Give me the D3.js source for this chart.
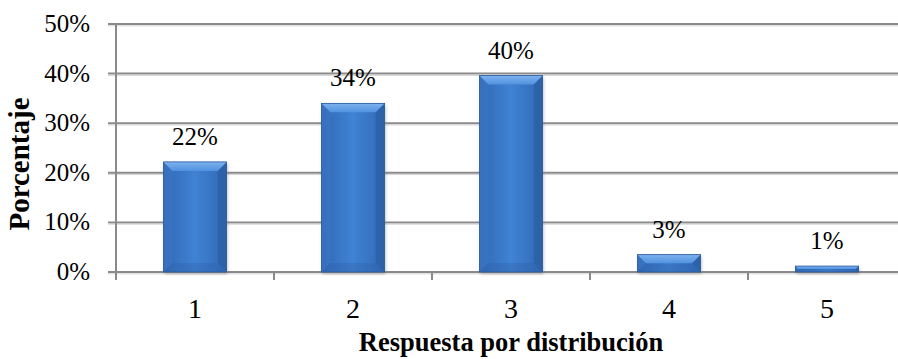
<!doctype html>
<html>
  <head>
    <meta charset="utf-8">
    <script src="https://cdn.jsdelivr.net/npm/d3@7/dist/d3.min.js"></script>
    <style>
      body { margin: 0; background: #fff; }
      text { font-family: "Liberation Serif", "Times New Roman", serif; fill: #000; }
    </style>
  </head>
  <body>
    <svg id="chart" width="898" height="359"></svg>

    <script>
      // values
      var categories = ["1", "2", "3", "4", "5"];
      var values     = [22.2, 34.0, 39.6, 3.5, 1.2];
      var labels     = ["22%", "34%", "40%", "3%", "1%"];
      var yTicks     = [0, 10, 20, 30, 40, 50];
      var yTitle     = "Porcentaje";
      var xTitle     = "Respuesta por distribución";

      var serif = "Liberation Serif, Times New Roman, serif";
      var svg = d3.select("#chart");

      var x = d3.scaleBand()
        .domain(categories)
        .range([116, 906])
        .paddingInner(0.6)
        .paddingOuter(0.3);

      var y = d3.scaleLinear()
        .domain([0, 50])
        .range([272, 24]);

      var defs = svg.append("defs");

      // horizontal shading of the bar body
      var body = defs.append("linearGradient").attr("id", "body")
        .attr("x1", "0").attr("x2", "1").attr("y1", "0").attr("y2", "0");
      body.append("stop").attr("offset", "0").attr("stop-color", "#3168b5");
      body.append("stop").attr("offset", "0.5").attr("stop-color", "#4082d4");
      body.append("stop").attr("offset", "1").attr("stop-color", "#3168b5");

      var topBevel = defs.append("linearGradient").attr("id", "topBevel")
        .attr("x1", "0").attr("x2", "0").attr("y1", "0").attr("y2", "1");
      topBevel.append("stop").attr("offset", "0").attr("stop-color", "#7db2ef");
      topBevel.append("stop").attr("offset", "1").attr("stop-color", "#5092df");

      var blur = defs.append("filter").attr("id", "shadow")
        .attr("x", "-20%").attr("y", "-20%").attr("width", "140%").attr("height", "140%");
      blur.append("feGaussianBlur").attr("stdDeviation", 1.5);

      // gridlines + y ticks
      var grid = svg.append("g");
      grid.selectAll("line.grid")
        .data(yTicks)
        .enter()
        .append("line")
          .attr("class", "grid")
          .attr("x1", 108)
          .attr("x2", 898)
          .attr("y1", function(d) { return y(d); })
          .attr("y2", function(d) { return y(d); })
          .attr("stroke", "#8a8a8a")
          .attr("stroke-width", 2);
      grid.selectAll("line.gridShade")
        .data(yTicks)
        .enter()
        .append("line")
          .attr("class", "gridShade")
          .attr("x1", 108)
          .attr("x2", 898)
          .attr("y1", function(d) { return y(d) + 1.8; })
          .attr("y2", function(d) { return y(d) + 1.8; })
          .attr("stroke", "#d4d4d4")
          .attr("stroke-width", 1);

      svg.selectAll("text.ytick")
        .data(yTicks)
        .enter()
        .append("text")
          .attr("class", "ytick")
          .attr("x", 90)
          .attr("y", function(d) { return y(d) + 8; })
          .attr("text-anchor", "end")
          .attr("font-family", serif)
          .attr("font-size", 25)
          .text(function(d) { return d + "%"; });

      // y axis line
      svg.append("line")
        .attr("x1", 116).attr("x2", 116)
        .attr("y1", y(50)).attr("y2", 280)
        .attr("stroke", "#8a8a8a")
        .attr("stroke-width", 2);

      // x tick marks at band boundaries
      var bounds = categories.slice(1).map(function(c) {
        return x(c) - x.step() * x.paddingInner() / 2;
      });
      svg.selectAll("line.xtick")
        .data(bounds)
        .enter()
        .append("line")
          .attr("class", "xtick")
          .attr("x1", function(d) { return d; })
          .attr("x2", function(d) { return d; })
          .attr("y1", y(0))
          .attr("y2", 280)
          .attr("stroke", "#8a8a8a")
          .attr("stroke-width", 2);

      // bars
      var bars = svg.selectAll("g.bar")
        .data(values)
        .enter()
        .append("g")
          .attr("class", "bar");

      bars.append("rect")
        .attr("x", function(d, i) { return x(categories[i]) + 1; })
        .attr("y", function(d) { return y(d) + 2; })
        .attr("width", x.bandwidth())
        .attr("height", function(d) { return y(0) - y(d); })
        .attr("fill", "#7a7a7a")
        .attr("opacity", 0.5)
        .attr("filter", "url(#shadow)");

      bars.append("rect")
        .attr("x", function(d, i) { return x(categories[i]); })
        .attr("y", function(d) { return y(d); })
        .attr("width", x.bandwidth())
        .attr("height", function(d) { return y(0) - y(d); })
        .attr("fill", "url(#body)");

      function bevelPts(d, i, side) {
        var x0 = x(categories[i]), x1 = x0 + x.bandwidth();
        var y0 = y(d), y1 = y(0);
        var b = Math.min(9, (y1 - y0) / 2);
        if (side === "top") return [[x0, y0], [x1, y0], [x1 - b, y0 + b], [x0 + b, y0 + b]];
        if (side === "bottom") return [[x0, y1], [x1, y1], [x1 - b, y1 - b], [x0 + b, y1 - b]];
        if (side === "left") return [[x0, y0], [x0 + b, y0 + b], [x0 + b, y1 - b], [x0, y1]];
        return [[x1, y0], [x1 - b, y0 + b], [x1 - b, y1 - b], [x1, y1]];
      }
      var sideFill = { top: "url(#topBevel)", bottom: "#2f62a8", left: "#3b77c6", right: "#2a5c9e" };
      var sideOpacity = { top: 1, bottom: 0.35, left: 0.5, right: 0.6 };
      ["left", "right", "bottom", "top"].forEach(function(side) {
        bars.append("polygon")
          .attr("points", function(d, i) { return bevelPts(d, i, side).join(" "); })
          .attr("fill", sideFill[side])
          .attr("opacity", sideOpacity[side]);
      });

      bars.append("rect")
        .attr("x", function(d, i) { return x(categories[i]); })
        .attr("y", function(d) { return y(d); })
        .attr("width", x.bandwidth())
        .attr("height", function(d) { return y(0) - y(d); })
        .attr("fill", "none")
        .attr("stroke", "#2a5a9c")
        .attr("stroke-width", 0.8);

      // value labels
      bars.append("text")
        .attr("x", function(d, i) { return x(categories[i]) + x.bandwidth() / 2; })
        .attr("y", function(d) { return y(d) - 17; })
        .attr("text-anchor", "middle")
        .attr("font-family", serif)
        .attr("font-size", 25)
        .text(function(d, i) { return labels[i]; });

      // category labels
      svg.selectAll("text.cat")
        .data(categories)
        .enter()
        .append("text")
          .attr("class", "cat")
          .attr("x", function(d) { return x(d) + x.bandwidth() / 2; })
          .attr("y", 318)
          .attr("text-anchor", "middle")
          .attr("font-family", serif)
          .attr("font-size", 28)
          .text(function(d) { return d; });

      // axis titles
      svg.append("text")
        .attr("x", (116 + 906) / 2)
        .attr("y", 351)
        .attr("text-anchor", "middle")
        .attr("font-family", serif)
        .attr("font-size", 26.5)
        .attr("font-weight", "bold")
        .text(xTitle);

      svg.append("text")
        .attr("transform", "translate(29," + 164 + ") rotate(-90)")
        .attr("text-anchor", "middle")
        .attr("font-family", serif)
        .attr("font-size", 29)
        .attr("font-weight", "bold")
        .text(yTitle);
    </script>
  </body>
</html>
